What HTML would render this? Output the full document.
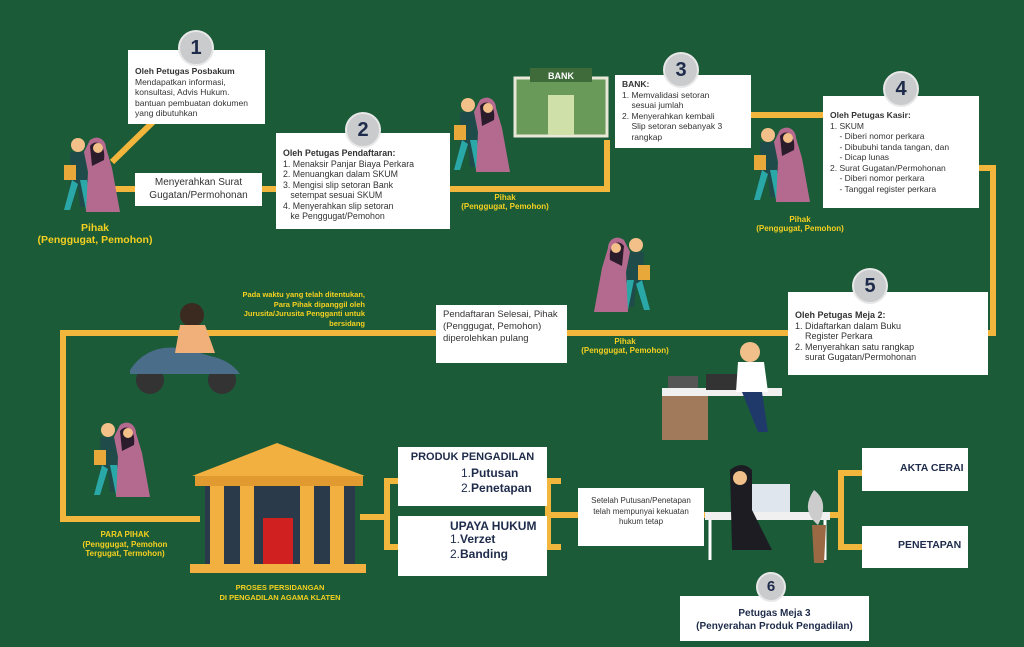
<!DOCTYPE html><html><head><meta charset="utf-8"><style>
body{margin:0;width:1024px;height:647px;background:#1b5b38;position:relative;overflow:hidden;font-family:"Liberation Sans",sans-serif}
.b{position:absolute;background:#fff;color:#333;font-size:8.5px;line-height:10.5px;box-sizing:border-box;padding:4px 7px}
.c{position:absolute;width:32px;height:32px;border-radius:50%;background:#c9cbcd;border:2px solid #e8e8e8;color:#1e2b4a;font-weight:bold;font-size:20px;text-align:center;line-height:32px;box-sizing:content-box}
.l{position:absolute;background:#f2b63c}
.y{position:absolute;color:#f5d020;font-weight:bold;font-size:9px;text-align:center;line-height:11px}
</style></head><body>
<!-- lines -->
<div class="l" style="left:115px;top:186px;width:175px;height:6px"></div>
<div class="l" style="left:450px;top:186px;width:160px;height:6px"></div>
<div class="l" style="left:604px;top:140px;width:6px;height:52px"></div>
<div class="l" style="left:750px;top:112px;width:75px;height:6px"></div>
<div class="l" style="left:978px;top:165px;width:18px;height:6px"></div>
<div class="l" style="left:990px;top:165px;width:6px;height:170px"></div>
<div class="l" style="left:60px;top:330px;width:936px;height:6px"></div>
<div class="l" style="left:60px;top:330px;width:6px;height:192px"></div>
<div class="l" style="left:60px;top:516px;width:140px;height:6px"></div>
<div class="l" style="left:360px;top:514px;width:30px;height:6px"></div>
<div class="l" style="left:384px;top:478px;width:6px;height:72px"></div>
<div class="l" style="left:384px;top:478px;width:16px;height:6px"></div>
<div class="l" style="left:384px;top:544px;width:16px;height:6px"></div>
<div class="l" style="left:545px;top:478px;width:6px;height:72px"></div>
<div class="l" style="left:545px;top:478px;width:16px;height:6px"></div>
<div class="l" style="left:545px;top:544px;width:16px;height:6px"></div>
<div class="l" style="left:545px;top:512px;width:35px;height:6px"></div>
<div class="l" style="left:700px;top:512px;width:140px;height:6px"></div>
<div class="l" style="left:838px;top:470px;width:6px;height:80px"></div>
<div class="l" style="left:838px;top:470px;width:26px;height:6px"></div>
<div class="l" style="left:838px;top:544px;width:26px;height:6px"></div>
<svg style="position:absolute;left:0;top:0" width="1024" height="647">
<line x1="155" y1="120" x2="112" y2="162" stroke="#f2b63c" stroke-width="6"/>
<!-- people groups -->
<g id="p"><circle cx="78" cy="145" r="7" fill="#f3c089"/><path d="M70 152h16l2 30-3 25h-5l-2-22-6 20h-5l4-28z" fill="#1f4b4a"/><path d="M72 180l-8 30h6l8-26zM80 180l6 30h5l-4-30z" fill="#2aa8a8"/><rect x="64" y="165" width="12" height="15" fill="#e8a83a"/><path d="M90 140c8-6 16 0 16 8l6 20 8 44h-34l2-40 -4-20z" fill="#b46a8e"/><path d="M90 146c6-8 16-2 14 14l-12 6z" fill="#2b1c2c"/><circle cx="98" cy="148" r="5" fill="#f3c089"/></g>
<use href="#p" x="390" y="-40"/><use href="#p" x="690" y="-10"/><use href="#p" x="30" y="285"/>
<use href="#p" x="512" y="100" transform="translate(1226 0) scale(-1 1)"/>
<!-- bank -->
<rect x="515" y="78" width="92" height="58" fill="#6a9a5a" stroke="#e8e8d8" stroke-width="3"/><rect x="530" y="68" width="62" height="14" fill="#3f6a3a"/><text x="561" y="79" fill="#fff" font-size="9" font-weight="bold" text-anchor="middle">BANK</text><rect x="548" y="95" width="26" height="40" fill="#cfe0a8"/>
<!-- scooter -->
<ellipse cx="150" cy="380" rx="14" ry="14" fill="#333"/><ellipse cx="222" cy="380" rx="14" ry="14" fill="#333"/><path d="M130 370q20-30 60-20l20 6q20 4 30 18h-110z" fill="#4a6d8a"/><circle cx="192" cy="315" r="12" fill="#3a2a20"/><path d="M180 325h25l10 28h-40z" fill="#f1b07a"/>
<!-- desk man -->
<rect x="662" y="388" width="120" height="8" fill="#f0f0f0"/><rect x="662" y="396" width="46" height="44" fill="#a07a5a"/><rect x="706" y="374" width="34" height="16" fill="#333"/><circle cx="750" cy="352" r="10" fill="#f1c08a"/><path d="M738 362h26l4 30h-32z" fill="#fff"/><path d="M742 392h20l6 40h-10z" fill="#1f3a6a"/><rect x="668" y="376" width="30" height="12" fill="#555"/>
<!-- courthouse -->
<polygon points="192,476 277,443 365,476" fill="#f1b040"/><rect x="195" y="476" width="168" height="10" fill="#e09a30"/><rect x="205" y="486" width="150" height="80" fill="#2a3a4a"/><g fill="#f1b040"><rect x="210" y="486" width="14" height="80"/><rect x="240" y="486" width="14" height="80"/><rect x="300" y="486" width="14" height="80"/><rect x="330" y="486" width="14" height="80"/></g><rect x="263" y="518" width="30" height="48" fill="#d02020"/><rect x="190" y="564" width="176" height="9" fill="#f1b040"/>
<!-- desk woman -->
<rect x="705" y="512" width="125" height="8" fill="#f0f0f0"/><path d="M710 520v40M825 520v40" stroke="#fff" stroke-width="3"/><rect x="750" y="484" width="40" height="28" fill="#dfe6ee"/><path d="M730 470q12-10 22 0v40l20 40h-40z" fill="#1c1c22"/><circle cx="740" cy="478" r="7" fill="#f1c08a"/><path d="M812 525h14l-2 38h-10z" fill="#9b6a45"/><path d="M818 525q-18-15-4-35q16 12 4 35z" fill="#ccc"/>
</svg>
<!-- boxes -->
<div class="b" style="left:128px;top:50px;width:137px;height:74px;padding-top:16px"><b>Oleh Petugas Posbakum</b><br>Mendapatkan informasi, konsultasi, Advis Hukum. bantuan pembuatan dokumen yang dibutuhkan</div>
<div class="c" style="left:178px;top:30px">1</div>
<div class="b" style="left:135px;top:173px;width:127px;height:33px;font-size:10px;line-height:13px;text-align:center;padding:3px">Menyerahkan Surat Gugatan/Permohonan</div>
<div class="b" style="left:276px;top:133px;width:174px;height:96px;padding-top:15px;font-size:8.8px"><b>Oleh Petugas Pendaftaran:</b><br>1. Menaksir Panjar Biaya Perkara<br>2. Menuangkan dalam SKUM<br>3. Mengisi slip setoran Bank<br>&nbsp;&nbsp;&nbsp;setempat sesuai SKUM<br>4. Menyerahkan slip setoran<br>&nbsp;&nbsp;&nbsp;ke Penggugat/Pemohon</div>
<div class="c" style="left:345px;top:112px">2</div>
<div class="b" style="left:615px;top:75px;width:136px;height:73px;padding-top:4px"><b>BANK:</b><br>1. Memvalidasi setoran<br>&nbsp;&nbsp;&nbsp;&nbsp;sesuai jumlah<br>2. Menyerahkan kembali<br>&nbsp;&nbsp;&nbsp;&nbsp;Slip setoran sebanyak 3<br>&nbsp;&nbsp;&nbsp;&nbsp;rangkap</div>
<div class="c" style="left:663px;top:52px">3</div>
<div class="b" style="left:823px;top:96px;width:156px;height:112px;padding-top:14px"><b>Oleh Petugas Kasir:</b><br>1. SKUM<br>&nbsp;&nbsp;&nbsp;&nbsp;- Diberi nomor perkara<br>&nbsp;&nbsp;&nbsp;&nbsp;- Dibubuhi tanda tangan, dan<br>&nbsp;&nbsp;&nbsp;&nbsp;- Dicap lunas<br>2. Surat Gugatan/Permohonan<br>&nbsp;&nbsp;&nbsp;&nbsp;- Diberi nomor perkara<br>&nbsp;&nbsp;&nbsp;&nbsp;- Tanggal register perkara</div>
<div class="c" style="left:883px;top:71px">4</div>
<div class="b" style="left:788px;top:292px;width:200px;height:83px;padding-top:18px;font-size:9px"><b>Oleh Petugas Meja 2:</b><br>1. Didaftarkan dalam Buku<br>&nbsp;&nbsp;&nbsp;&nbsp;Register Perkara<br>2. Menyerahkan satu rangkap<br>&nbsp;&nbsp;&nbsp;&nbsp;surat Gugatan/Permohonan</div>
<div class="c" style="left:852px;top:268px">5</div>
<div class="b" style="left:436px;top:305px;width:131px;height:58px;font-size:9.5px;line-height:12px">Pendaftaran Selesai, Pihak (Penggugat, Pemohon) diperolehkan pulang</div>
<div class="b" style="left:398px;top:447px;width:149px;height:59px;padding:5px 8px"><div style="font-weight:bold;font-size:11px;text-align:center;color:#1e2b4a">PRODUK PENGADILAN</div><div style="margin:3px 0 0 55px;font-size:12px;line-height:15px;color:#1e2b4a">1.<b>Putusan</b><br>2.<b>Penetapan</b></div></div>
<div class="b" style="left:398px;top:516px;width:149px;height:60px;padding:5px 8px"><div style="font-weight:bold;font-size:12px;margin-left:44px;color:#1e2b4a">UPAYA HUKUM</div><div style="margin-left:44px;font-size:12px;line-height:15px;color:#1e2b4a">1.<b>Verzet</b><br>2.<b>Banding</b></div></div>
<div class="b" style="left:578px;top:488px;width:126px;height:58px;text-align:center;font-size:8px;padding-top:8px">Setelah Putusan/Penetapan telah mempunyai kekuatan hukum tetap</div>
<div class="b" style="left:862px;top:448px;width:106px;height:43px;font-weight:bold;font-size:10.5px;color:#1e2b4a;padding:15px 0 0 38px">AKTA CERAI</div>
<div class="b" style="left:862px;top:526px;width:106px;height:42px;font-weight:bold;font-size:10.5px;color:#1e2b4a;padding:14px 0 0 36px">PENETAPAN</div>
<div class="b" style="left:680px;top:596px;width:189px;height:45px;text-align:center;font-weight:bold;font-size:10px;line-height:13px;color:#1e2b4a;padding-top:11px">Petugas Meja 3<br>(Penyerahan Produk Pengadilan)</div>
<div class="c" style="left:756px;top:572px;width:26px;height:26px;line-height:26px;font-size:15px">6</div>
<!-- yellow labels -->
<div class="y" style="left:10px;top:222px;width:170px;font-size:10.5px;line-height:12px">Pihak<br>(Penggugat, Pemohon)</div>
<div class="y" style="left:445px;top:193px;width:120px;font-size:8px;line-height:9px">Pihak<br>(Penggugat, Pemohon)</div>
<div class="y" style="left:740px;top:215px;width:120px;font-size:8px;line-height:9px">Pihak<br>(Penggugat, Pemohon)</div>
<div class="y" style="left:565px;top:337px;width:120px;font-size:8px;line-height:9px">Pihak<br>(Penggugat, Pemohon)</div>
<div class="y" style="left:240px;top:290px;width:125px;font-size:7.5px;line-height:9.5px;text-align:right">Pada waktu yang telah ditentukan, Para Pihak dipanggil oleh Jurusita/Jurusita Pengganti untuk bersidang</div>
<div class="y" style="left:60px;top:530px;width:130px;font-size:8px;line-height:9.5px">PARA PIHAK<br>(Penggugat, Pemohon<br>Tergugat, Termohon)</div>
<div class="y" style="left:190px;top:583px;width:180px;font-size:7.5px;line-height:10px">PROSES PERSIDANGAN<br>DI PENGADILAN AGAMA KLATEN</div>
</body></html>
